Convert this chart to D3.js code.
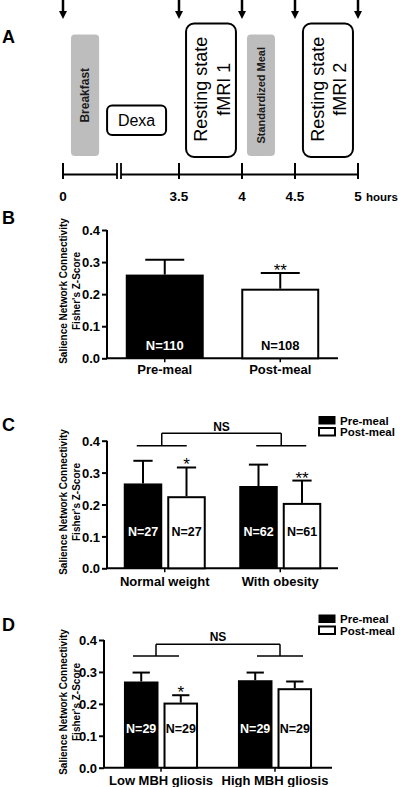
<!DOCTYPE html>
<html><head><meta charset="utf-8">
<script src="https://cdn.jsdelivr.net/npm/d3@7"></script>
<style>
html,body{margin:0;padding:0;background:#fff;}
svg{display:block;font-family:"Liberation Sans",Arial,sans-serif;}
</style></head>
<body>
<svg id="fig" width="400" height="787"></svg>
<script>
// ---------- Panel A data ----------
const timeTicks = [0, 3.5, 4, 4.5, 5];
const timeTickLabels = ["0", "3.5", "4", "4.5", "5"];
const arrowTimes = [0, 3.5, 4, 4.5, 5];
const eventNames = ["Breakfast", "Dexa", "Resting state|fMRI 1", "Standardized Meal", "Resting state|fMRI 2"];
const eventStart = [0.24, 1.33, 3.556, 4.047, 4.563];
const eventEnd = [1.09, 3.11, 3.952, 4.311, 4.96];
const eventKind = ["gray", "small", "scan", "gray", "scan"];
const breakTime = 1.69;

// ---------- Panel B data ----------
const bCategories = ["Pre-meal", "Post-meal"];
const bMeans = [0.261, 0.217];
const bErr = [0.046, 0.049];
const bN = ["N=110", "N=108"];
const bSig = ["", "**"];

// ---------- Panel C data ----------
const cGroups = ["Normal weight", "With obesity"];
const series = ["Pre-meal", "Post-meal"];
const cPre = [0.266, 0.258];
const cPost = [0.226, 0.205];
const cPreErr = [0.071, 0.067];
const cPostErr = [0.090, 0.070];
const cPreN = ["N=27", "N=62"];
const cPostN = ["N=27", "N=61"];
const cPostSig = ["*", "**"];

// ---------- Panel D data ----------
const dGroups = ["Low MBH gliosis", "High MBH gliosis"];
const dPre = [0.270, 0.274];
const dPost = [0.204, 0.249];
const dPreErr = [0.028, 0.024];
const dPostErr = [0.023, 0.021];
const dPreN = ["N=29", "N=29"];
const dPostN = ["N=29", "N=29"];
const dPostSig = ["*", ""];

const yTicks = [0, 0.1, 0.2, 0.3, 0.4];

const svg = d3.select("#fig");
svg.append("rect").attr("width", 400).attr("height", 787).attr("fill", "#fff");

function panelLabel(t, x, y) {
  svg.append("text").attr("x", x).attr("y", y).text(t)
    .attr("font-size", 18).attr("font-weight", "bold").attr("fill", "#000");
}

// ================= Panel A =================
(function () {
  const x = d3.scaleLinear().domain(timeTicks).range([63, 179, 242, 295, 358]);
  const g = svg.append("g");
  const lineY = 174.5;

  arrowTimes.forEach(t => {
    const cx = x(t);
    g.append("line").attr("x1", cx).attr("x2", cx).attr("y1", 0).attr("y2", 13)
      .attr("stroke", "#000").attr("stroke-width", 2.5);
    g.append("path").attr("d", `M${cx - 4},11 L${cx + 4},11 L${cx},19 Z`).attr("fill", "#000");
  });

  const bx = x(breakTime);
  g.append("line").attr("x1", x(0)).attr("x2", bx - 2).attr("y1", lineY).attr("y2", lineY)
    .attr("stroke", "#000").attr("stroke-width", 2);
  g.append("line").attr("x1", bx + 2).attr("x2", x(5)).attr("y1", lineY).attr("y2", lineY)
    .attr("stroke", "#000").attr("stroke-width", 2);
  [bx - 2, bx + 2].forEach(px => {
    g.append("line").attr("x1", px).attr("x2", px).attr("y1", 163).attr("y2", 179)
      .attr("stroke", "#000").attr("stroke-width", 1.8);
  });
  timeTicks.forEach((t, i) => {
    g.append("line").attr("x1", x(t)).attr("x2", x(t)).attr("y1", 163).attr("y2", 179)
      .attr("stroke", "#000").attr("stroke-width", 2);
    g.append("text").attr("x", x(t)).attr("y", 201).attr("text-anchor", "middle")
      .attr("font-size", 13.5).attr("font-weight", "bold").text(timeTickLabels[i]);
  });
  g.append("text").attr("x", 366).attr("y", 201).attr("font-size", 11.5)
    .attr("font-weight", "bold").text("hours");

  const kindY = { gray: [34.5, 156], small: [105.5, 135], scan: [23.5, 157] };
  eventNames.forEach((name, i) => {
    const x0 = x(eventStart[i]), x1 = x(eventEnd[i]);
    const [y0, y1] = kindY[eventKind[i]];
    const cx = (x0 + x1) / 2, cy = (y0 + y1) / 2;
    if (eventKind[i] === "gray") {
      g.append("rect").attr("x", x0).attr("y", y0).attr("width", x1 - x0).attr("height", y1 - y0)
        .attr("rx", 4).attr("fill", "#bdbdbd");
      g.append("text").attr("transform", `translate(${cx + 4},${cy}) rotate(-90)`)
        .attr("text-anchor", "middle").attr("font-size", name.length > 10 ? 11 : 12)
        .attr("font-weight", "bold").attr("fill", "#1a1a1a").text(name);
    } else if (eventKind[i] === "small") {
      g.append("rect").attr("x", x0).attr("y", y0).attr("width", x1 - x0).attr("height", y1 - y0)
        .attr("rx", 5).attr("fill", "#fff").attr("stroke", "#000").attr("stroke-width", 2);
      g.append("text").attr("x", cx).attr("y", cy + 6).attr("text-anchor", "middle")
        .attr("font-size", 16).text(name);
    } else {
      g.append("rect").attr("x", x0).attr("y", y0).attr("width", x1 - x0).attr("height", y1 - y0)
        .attr("rx", 8).attr("fill", "#fff").attr("stroke", "#000").attr("stroke-width", 2);
      const lines = name.split("|");
      lines.forEach((ln, k) => {
        g.append("text").attr("transform", `translate(${cx - 4 + k * 22.5},${cy - 1}) rotate(-90)`)
          .attr("text-anchor", "middle").attr("font-size", 18).text(ln);
      });
    }
  });
  panelLabel("A", 2, 43);
})();

// ================= bar panel helpers =================
function drawAxes(g, xs, y, cats, labelY, titleCy) {
  const xr = xs.range();
  const axisY = y(0);
  const ya = g.append("g").attr("transform", `translate(${xr[0]},0)`)
    .call(d3.axisLeft(y).tickValues(yTicks).tickFormat(d3.format(".1f")).tickSize(5).tickPadding(2));
  ya.select(".domain").attr("stroke-width", 2).attr("d", `M0,${y(0)}V${y(0.4)}`);
  ya.selectAll(".tick line").attr("stroke-width", 2);
  ya.selectAll(".tick text").attr("font-size", 13).attr("font-weight", "bold")
    .attr("font-family", "Liberation Sans, Arial, sans-serif").attr("fill", "#000").attr("dy", "0.36em");
  const xa = g.append("g").attr("transform", `translate(0,${axisY})`)
    .call(d3.axisBottom(xs).tickSize(4).tickFormat(""));
  xa.select(".domain").attr("stroke-width", 2).attr("d", `M${xr[0]},0H${xr[1]}`);
  xa.selectAll(".tick line").attr("stroke-width", 1.5);
  cats.forEach(c => {
    g.append("text").attr("x", xs(c) + xs.bandwidth() / 2).attr("y", labelY)
      .attr("text-anchor", "middle").attr("font-size", 13).attr("font-weight", "bold").text(c);
  });
  const t = g.append("text").attr("transform", `translate(66.5,${titleCy}) rotate(-90)`)
    .attr("text-anchor", "middle").attr("font-size", 10).attr("font-weight", "bold");
  t.append("tspan").attr("x", 0).attr("y", 0).text("Salience Network Connectivity");
  t.append("tspan").attr("x", 0).attr("y", 13.5).text("Fisher's Z-Score");
}

function drawBar(g, x0, w, y, mean, err, fillBlack, nLabel, nVal, sig, nSize) {
  if (err > 0) {
    g.append("line").attr("x1", x0 + w / 2).attr("x2", x0 + w / 2)
      .attr("y1", y(mean)).attr("y2", y(mean + err)).attr("stroke", "#000").attr("stroke-width", 2);
    g.append("line").attr("x1", x0 + w / 4).attr("x2", x0 + 3 * w / 4)
      .attr("y1", y(mean + err)).attr("y2", y(mean + err)).attr("stroke", "#000").attr("stroke-width", 2);
  }
  g.append("rect").attr("x", x0 + (fillBlack ? 0 : 1)).attr("y", y(mean) + (fillBlack ? 0 : 1))
    .attr("width", w - (fillBlack ? 0 : 2)).attr("height", y(0) - y(mean) - (fillBlack ? 0 : 1))
    .attr("fill", fillBlack ? "#000" : "#fff").attr("stroke", fillBlack ? "none" : "#000").attr("stroke-width", 2);
  g.append("text").attr("x", x0 + w / 2).attr("y", y(nVal)).attr("text-anchor", "middle")
    .attr("font-size", nSize).attr("font-weight", "bold").attr("fill", fillBlack ? "#fff" : "#000").text(nLabel);
  if (sig) {
    g.append("text").attr("x", x0 + w / 2).attr("y", y(mean + err) + 3).attr("text-anchor", "middle")
      .attr("font-size", 17).attr("fill", "#000").text(sig);
  }
}

function drawLegend(g, top) {
  series.forEach((s, i) => {
    g.append("rect").attr("x", 319).attr("y", top + i * 11.5).attr("width", 16).attr("height", 7.5)
      .attr("fill", i === 0 ? "#000" : "#fff").attr("stroke", "#000").attr("stroke-width", i === 0 ? 1 : 2);
    g.append("text").attr("x", 340).attr("y", top + i * 11.5 + 8).attr("font-size", 11.5)
      .attr("font-weight", "bold").text(s);
  });
}

function drawBracket(g, y, xL, xR, half, lowV, topV, textY) {
  [xL, xR].forEach(cx => {
    g.append("line").attr("x1", cx - half).attr("x2", cx + half).attr("y1", y(lowV)).attr("y2", y(lowV))
      .attr("stroke", "#000").attr("stroke-width", 1.5);
    g.append("line").attr("x1", cx).attr("x2", cx).attr("y1", y(lowV)).attr("y2", y(topV))
      .attr("stroke", "#000").attr("stroke-width", 1.5);
  });
  g.append("line").attr("x1", xL).attr("x2", xR).attr("y1", y(topV)).attr("y2", y(topV))
    .attr("stroke", "#000").attr("stroke-width", 1.5);
  g.append("text").attr("x", (xL + xR) / 2).attr("y", textY).attr("text-anchor", "middle")
    .attr("font-size", 12).attr("font-weight", "bold").text("NS");
}

// ================= Panel B =================
(function () {
  const g = svg.append("g");
  const y = d3.scaleLinear().domain([0, 0.4]).range([358.3, 230]);
  const xs = d3.scaleBand().domain(bCategories).range([107, 338]).paddingInner(0.325).paddingOuter(0.1625);
  drawAxes(g, xs, y, bCategories, 374, 291);
  bCategories.forEach((c, i) => {
    drawBar(g, xs(c), xs.bandwidth(), y, bMeans[i], bErr[i], i === 0, bN[i], 0.027, bSig[i], 13);
  });
  panelLabel("B", 2, 224);
})();

// ================= Panel C =================
(function () {
  const g = svg.append("g");
  const y = d3.scaleLinear().domain([0, 0.4]).range([568.3, 440.7]);
  const xs = d3.scaleBand().domain(cGroups).range([107, 338]).paddingInner(0.29).paddingOuter(0.145);
  const xi = d3.scaleBand().domain(series).range([0, xs.bandwidth()]).paddingInner(0.115);
  drawAxes(g, xs, y, cGroups, 586, 502);
  cGroups.forEach((c, i) => {
    drawBar(g, xs(c) + xi("Pre-meal"), xi.bandwidth(), y, cPre[i], cPreErr[i], true, cPreN[i], 0.1, "", 12.5);
    drawBar(g, xs(c) + xi("Post-meal"), xi.bandwidth(), y, cPost[i], cPostErr[i], false, cPostN[i], 0.1, cPostSig[i], 12.5);
  });
  const cL = xs(cGroups[0]) + xs.bandwidth() / 2 - 3;
  const cR = xs(cGroups[1]) + xs.bandwidth() / 2 + 1;
  drawBracket(g, y, cL, cR, 25, 0.384, 0.423, 431);
  drawLegend(g, 416.5);
  panelLabel("C", 2, 431);
})();

// ================= Panel D =================
(function () {
  const g = svg.append("g");
  const y = d3.scaleLinear().domain([0, 0.4]).range([767.7, 640]);
  const xs = d3.scaleBand().domain(dGroups).range([104, 332]).paddingInner(0.35).paddingOuter(0.175);
  const xi = d3.scaleBand().domain(series).range([0, xs.bandwidth()]).paddingInner(0.127);
  drawAxes(g, xs, y, dGroups, 785, 702);
  dGroups.forEach((c, i) => {
    drawBar(g, xs(c) + xi("Pre-meal"), xi.bandwidth(), y, dPre[i], dPreErr[i], true, dPreN[i], 0.108, "", 12.5);
    drawBar(g, xs(c) + xi("Post-meal"), xi.bandwidth(), y, dPost[i], dPostErr[i], false, dPostN[i], 0.108, dPostSig[i], 12.5);
  });
  const dL = xs(dGroups[0]) + xs.bandwidth() / 2 - 5;
  const dR = xs(dGroups[1]) + xs.bandwidth() / 2 + 5;
  drawBracket(g, y, dL, dR, 23, 0.35, 0.387, 641);
  drawLegend(g, 615);
  panelLabel("D", 2, 631);
})();
</script>
</body></html>
